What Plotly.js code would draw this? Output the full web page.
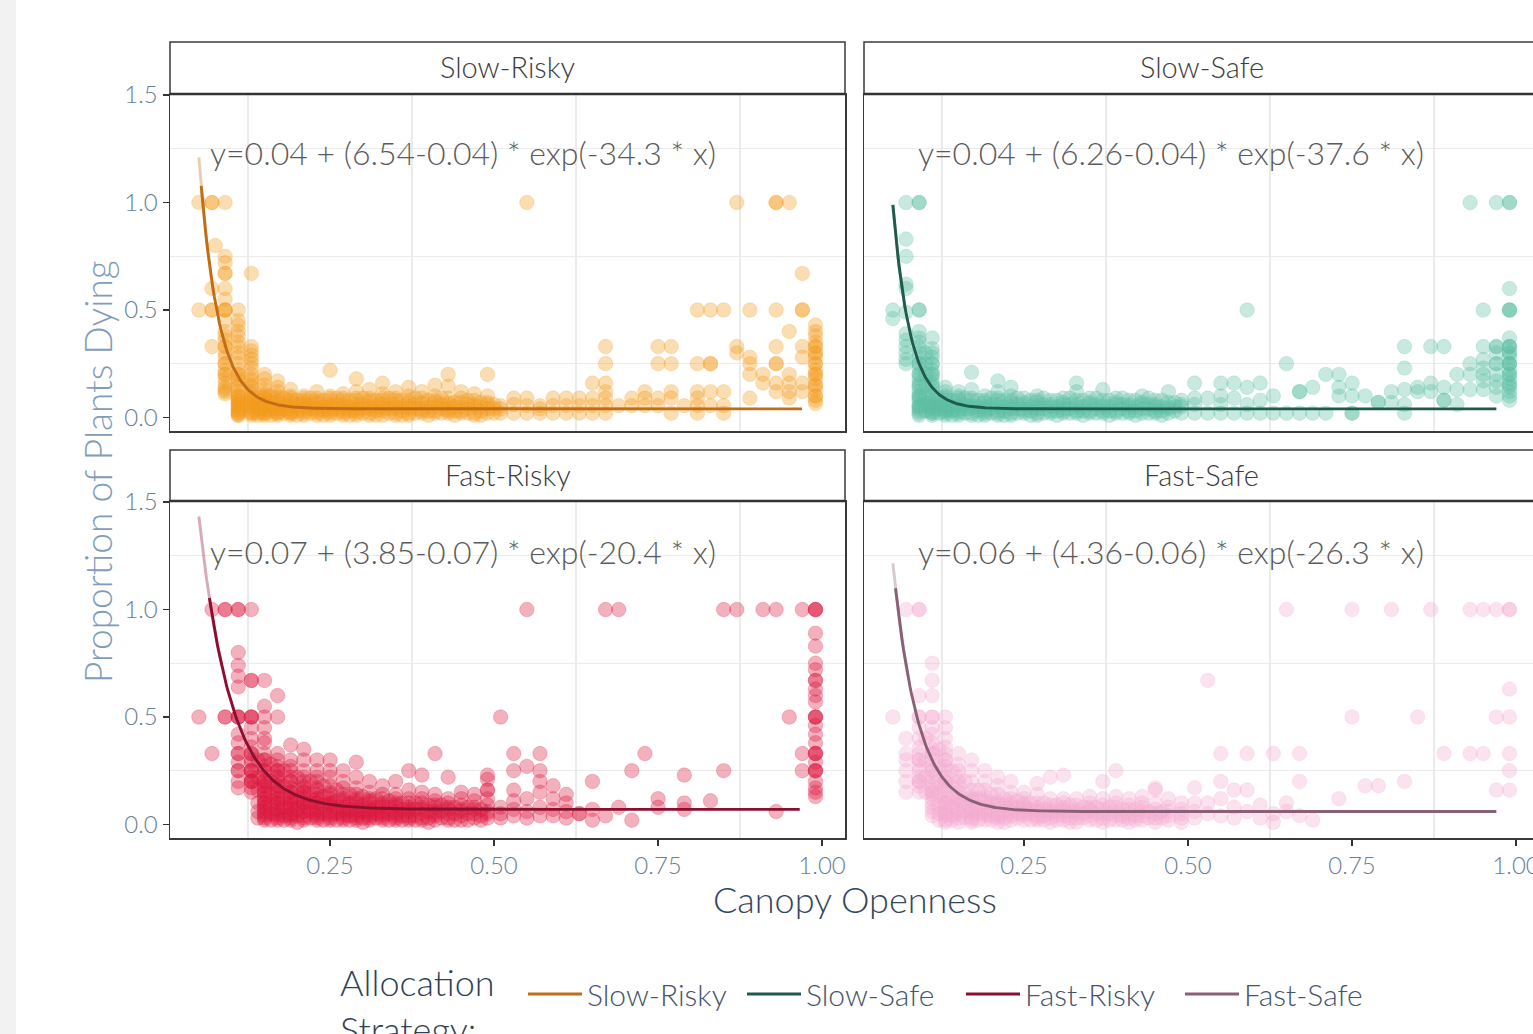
<!DOCTYPE html>
<html><head><meta charset="utf-8">
<script src="https://cdn.plot.ly/plotly-3.0.1.min.js"></script>
<style>html,body{margin:0;padding:0;overflow:hidden;background:#fff;width:1533px;height:1034px}#chart{position:absolute;left:0;top:0;width:1560px;height:1034px}</style>
</head><body><div id="chart"></div><script>
// ---------- data ----------
const strategies = ['Slow-Risky', 'Slow-Safe', 'Fast-Risky', 'Fast-Safe'];
const pointRGB = ['243,154,30', '92,191,162', '220,22,62', '244,169,207'];
const lineColors = ['#c26d16', '#1e5b4c', '#8c0f2f', '#8a6077'];
// fitted model y = a + (b - a) * exp(-k * x)
const fitA = [0.04, 0.04, 0.07, 0.06];
const fitB = [6.54, 6.26, 3.85, 4.36];
const fitK = [34.3, 37.6, 20.4, 26.3];
const fitStart = [0.05, 0.05, 0.05, 0.05];
const fitDarkStart = [0.0535, 0.05, 0.066, 0.054];
const fitEnd = [0.971, 0.97, 0.966, 0.97];
const xTickVals = [0.25, 0.50, 0.75, 1.00];
const yTickVals = [0.0, 0.5, 1.0, 1.5];

// observed points, per column: [canopy openness, proportions dying ...]
const srCols = [
 [0.05, 1.0, 0.5],
 [0.07, 1.0, 1.0, 0.6, 0.5, 0.5, 0.33],
 [0.075, 0.8],
 [0.09, 1.0, 0.75, 0.72, 0.67, 0.67, 0.6, 0.55, 0.5, 0.5, 0.5, 0.45, 0.4, 0.38, 0.36, 0.33, 0.33, 0.3, 0.28, 0.25, 0.25, 0.22, 0.2, 0.2, 0.18, 0.16, 0.14, 0.13, 0.12, 0.11],
 [0.11, 0.5, 0.45, 0.43, 0.4, 0.38, 0.35, 0.33, 0.3, 0.28, 0.25, 0.22, 0.2, 0.2, 0.18, 0.17, 0.15, 0.14, 0.12, 0.1, 0.1, 0.09, 0.08, 0.08, 0.07, 0.06, 0.06, 0.05, 0.04, 0.04, 0.03, 0.02, 0.02, 0.01, 0.01],
 [0.13, 0.67, 0.33, 0.31, 0.29, 0.27, 0.25, 0.23, 0.2, 0.18, 0.17, 0.15, 0.14, 0.12, 0.11, 0.1, 0.09, 0.08, 0.07, 0.06, 0.05, 0.04, 0.03, 0.02, 0.01, 0.08, 0.05, 0.02],
 [0.14, 0.09, 0.06, 0.04, 0.02, 0.01],
 [0.15, 0.2, 0.18, 0.15, 0.13, 0.11, 0.1, 0.09, 0.08, 0.07, 0.06, 0.05, 0.04, 0.03, 0.02, 0.01, 0.09, 0.06, 0.04, 0.02],
 [0.16, 0.1, 0.07, 0.05, 0.03, 0.01],
 [0.17, 0.17, 0.14, 0.12, 0.1, 0.08, 0.07, 0.05, 0.04, 0.03, 0.02, 0.01, 0.09, 0.06, 0.04, 0.02],
 [0.18, 0.09, 0.06, 0.04, 0.02],
 [0.19, 0.13, 0.1, 0.08, 0.06, 0.05, 0.03, 0.02, 0.01, 0.09, 0.07, 0.04, 0.02],
 [0.20, 0.08, 0.06, 0.03, 0.01],
 [0.21, 0.1, 0.08, 0.06, 0.04, 0.02, 0.01, 0.09, 0.07, 0.05, 0.03],
 [0.22, 0.09, 0.06, 0.04, 0.02],
 [0.23, 0.12, 0.09, 0.07, 0.05, 0.03, 0.02, 0.08, 0.06, 0.04, 0.01],
 [0.24, 0.08, 0.05, 0.03, 0.01],
 [0.25, 0.22, 0.1, 0.08, 0.06, 0.04, 0.02, 0.01, 0.09, 0.05, 0.03],
 [0.26, 0.09, 0.06, 0.04, 0.02],
 [0.27, 0.11, 0.09, 0.06, 0.04, 0.02, 0.08, 0.05, 0.03, 0.01],
 [0.28, 0.08, 0.05, 0.03, 0.01],
 [0.29, 0.18, 0.12, 0.09, 0.06, 0.04, 0.02, 0.01, 0.08, 0.05, 0.03],
 [0.30, 0.09, 0.06, 0.04, 0.02],
 [0.31, 0.13, 0.09, 0.07, 0.05, 0.02, 0.08, 0.04, 0.01],
 [0.32, 0.08, 0.05, 0.03, 0.01],
 [0.33, 0.16, 0.11, 0.08, 0.05, 0.03, 0.01, 0.09, 0.06, 0.04],
 [0.34, 0.09, 0.06, 0.04, 0.02],
 [0.35, 0.12, 0.09, 0.06, 0.04, 0.02, 0.08, 0.05, 0.01],
 [0.36, 0.08, 0.05, 0.03, 0.01],
 [0.37, 0.14, 0.1, 0.07, 0.05, 0.02, 0.01, 0.08, 0.04],
 [0.38, 0.09, 0.06, 0.04, 0.02],
 [0.39, 0.12, 0.09, 0.06, 0.03, 0.02, 0.07, 0.04],
 [0.40, 0.08, 0.05, 0.03, 0.01],
 [0.41, 0.15, 0.1, 0.07, 0.05, 0.02, 0.08, 0.03],
 [0.42, 0.09, 0.06, 0.04, 0.02],
 [0.43, 0.2, 0.145, 0.09, 0.06, 0.04, 0.02, 0.07, 0.03],
 [0.44, 0.07, 0.05, 0.03, 0.01],
 [0.45, 0.12, 0.09, 0.05, 0.02, 0.07, 0.03],
 [0.46, 0.08, 0.06, 0.04, 0.02],
 [0.47, 0.11, 0.08, 0.05, 0.02, 0.01, 0.06],
 [0.48, 0.07, 0.05, 0.03, 0.01],
 [0.49, 0.2, 0.1, 0.07, 0.04, 0.02, 0.06],
 [0.50, 0.06, 0.04, 0.02],
 [0.51, 0.055, 0.02, 0.04],
 [0.53, 0.09, 0.06, 0.02],
 [0.55, 1.0, 0.09, 0.055, 0.02],
 [0.57, 0.055, 0.02, 0.04],
 [0.59, 0.09, 0.055, 0.02],
 [0.61, 0.09, 0.055, 0.02],
 [0.63, 0.09, 0.055, 0.02],
 [0.65, 0.16, 0.09, 0.055, 0.02],
 [0.67, 0.33, 0.25, 0.16, 0.12, 0.09, 0.055, 0.02],
 [0.69, 0.055],
 [0.71, 0.09, 0.055],
 [0.73, 0.12, 0.09, 0.055],
 [0.75, 0.33, 0.25, 0.09, 0.055],
 [0.77, 0.33, 0.25, 0.12, 0.09, 0.02],
 [0.79, 0.055],
 [0.81, 0.5, 0.25, 0.12, 0.09, 0.055, 0.02],
 [0.83, 0.5, 0.25, 0.25, 0.12, 0.055],
 [0.85, 0.5, 0.12, 0.055, 0.02],
 [0.87, 1.0, 0.33, 0.3],
 [0.89, 0.5, 0.28, 0.25, 0.2, 0.09],
 [0.91, 0.2, 0.16],
 [0.93, 1.0, 1.0, 0.5, 0.33, 0.25, 0.25, 0.16, 0.12],
 [0.95, 1.0, 0.4, 0.2, 0.16, 0.12, 0.09],
 [0.97, 0.67, 0.5, 0.5, 0.33, 0.28, 0.16, 0.12],
 [0.99, 0.43, 0.4, 0.38, 0.35, 0.33, 0.33, 0.3, 0.28, 0.25, 0.22, 0.2, 0.18, 0.15, 0.13, 0.1, 0.08, 0.065, 0.3, 0.25, 0.2, 0.15, 0.1]
];
const ssCols = [
 [0.05, 0.5, 0.46],
 [0.07, 1.0, 0.83, 0.75, 0.62, 0.6, 0.49, 0.39, 0.36, 0.33, 0.3, 0.27, 0.25],
 [0.09, 1.0, 1.0, 0.5, 0.5, 0.4, 0.37, 0.35, 0.33, 0.3, 0.28, 0.25, 0.23, 0.2, 0.18, 0.16, 0.14, 0.12, 0.1, 0.09, 0.08, 0.06, 0.05, 0.04, 0.03, 0.02, 0.01, 0.25, 0.2, 0.15, 0.1, 0.05],
 [0.10, 0.3, 0.25, 0.2, 0.15, 0.1, 0.06, 0.03],
 [0.11, 0.37, 0.32, 0.3, 0.28, 0.25, 0.22, 0.2, 0.18, 0.16, 0.14, 0.12, 0.1, 0.08, 0.07, 0.06, 0.05, 0.04, 0.03, 0.02, 0.01, 0.25, 0.2, 0.15, 0.1, 0.05, 0.02],
 [0.12, 0.09, 0.06, 0.04, 0.02],
 [0.13, 0.14, 0.12, 0.1, 0.08, 0.06, 0.05, 0.04, 0.03, 0.02, 0.01, 0.09, 0.06, 0.03],
 [0.14, 0.08, 0.05, 0.03, 0.01],
 [0.15, 0.12, 0.1, 0.08, 0.06, 0.04, 0.02, 0.01, 0.09, 0.05, 0.03],
 [0.16, 0.09, 0.06, 0.04, 0.02],
 [0.17, 0.21, 0.13, 0.09, 0.06, 0.04, 0.02, 0.08, 0.05, 0.01],
 [0.18, 0.08, 0.05, 0.03, 0.01],
 [0.19, 0.1, 0.08, 0.05, 0.03, 0.02, 0.07, 0.04, 0.01],
 [0.20, 0.09, 0.06, 0.04, 0.02],
 [0.21, 0.17, 0.12, 0.08, 0.05, 0.03, 0.01, 0.09, 0.06, 0.02],
 [0.22, 0.08, 0.05, 0.03, 0.01],
 [0.23, 0.14, 0.1, 0.07, 0.04, 0.02, 0.08, 0.05, 0.01],
 [0.24, 0.09, 0.06, 0.04, 0.02],
 [0.25, 0.09, 0.06, 0.04, 0.02, 0.07, 0.03],
 [0.26, 0.08, 0.05, 0.03, 0.01],
 [0.27, 0.1, 0.07, 0.05, 0.02, 0.01, 0.08, 0.04],
 [0.28, 0.09, 0.06, 0.04, 0.02],
 [0.29, 0.08, 0.05, 0.03, 0.02, 0.06],
 [0.30, 0.08, 0.05, 0.03, 0.01],
 [0.31, 0.09, 0.06, 0.04, 0.02, 0.07, 0.03],
 [0.32, 0.09, 0.06, 0.04, 0.02],
 [0.33, 0.16, 0.12, 0.08, 0.05, 0.02, 0.06, 0.03],
 [0.34, 0.08, 0.05, 0.03, 0.01],
 [0.35, 0.09, 0.06, 0.03, 0.02, 0.07],
 [0.36, 0.09, 0.06, 0.04, 0.02],
 [0.37, 0.13, 0.08, 0.05, 0.02, 0.06, 0.03],
 [0.38, 0.08, 0.05, 0.03, 0.01],
 [0.39, 0.09, 0.06, 0.03, 0.02, 0.07],
 [0.40, 0.09, 0.06, 0.04, 0.02],
 [0.41, 0.08, 0.05, 0.02, 0.06, 0.03],
 [0.42, 0.08, 0.05, 0.03, 0.01],
 [0.43, 0.1, 0.07, 0.04, 0.02, 0.06],
 [0.44, 0.09, 0.06, 0.04, 0.02],
 [0.45, 0.08, 0.05, 0.02, 0.06, 0.03],
 [0.46, 0.08, 0.05, 0.03, 0.01],
 [0.47, 0.12, 0.07, 0.04, 0.02, 0.05],
 [0.48, 0.07, 0.05, 0.03],
 [0.49, 0.08, 0.05, 0.02, 0.06],
 [0.51, 0.16, 0.09, 0.06, 0.02],
 [0.53, 0.09, 0.02],
 [0.55, 0.16, 0.1, 0.06, 0.02],
 [0.57, 0.16, 0.09, 0.02],
 [0.59, 0.5, 0.14, 0.06, 0.02],
 [0.61, 0.16, 0.08, 0.02],
 [0.63, 0.1, 0.02],
 [0.65, 0.25, 0.02],
 [0.67, 0.12, 0.12, 0.02],
 [0.69, 0.14, 0.02],
 [0.71, 0.2, 0.02],
 [0.73, 0.2, 0.14, 0.1],
 [0.75, 0.16, 0.1, 0.02, 0.02],
 [0.77, 0.1],
 [0.79, 0.07, 0.07],
 [0.81, 0.12, 0.07],
 [0.83, 0.33, 0.23, 0.13, 0.06, 0.02],
 [0.85, 0.14, 0.12],
 [0.87, 0.33, 0.16, 0.12],
 [0.89, 0.33, 0.14, 0.08, 0.08],
 [0.91, 0.2, 0.13, 0.06],
 [0.93, 1.0, 0.25, 0.2, 0.13],
 [0.95, 0.5, 0.33, 0.27, 0.23, 0.2, 0.17, 0.13],
 [0.97, 1.0, 0.33, 0.33, 0.3, 0.25, 0.25, 0.2, 0.17, 0.14, 0.1],
 [0.99, 1.0, 1.0, 0.6, 0.5, 0.5, 0.5, 0.37, 0.33, 0.33, 0.33, 0.3, 0.28, 0.25, 0.25, 0.22, 0.2, 0.18, 0.16, 0.14, 0.12, 0.1, 0.08, 0.3, 0.25, 0.2, 0.15]
];
const frCols = [
 [0.05, 0.5],
 [0.07, 1.0, 0.33],
 [0.09, 1.0, 1.0, 0.5, 0.5],
 [0.11, 1.0, 1.0, 0.8, 0.74, 0.69, 0.64, 0.5, 0.5, 0.5, 0.42, 0.38, 0.33, 0.33, 0.29, 0.25, 0.25, 0.2, 0.17],
 [0.13, 1.0, 0.67, 0.67, 0.5, 0.5, 0.5, 0.45, 0.4, 0.36, 0.33, 0.33, 0.29, 0.25, 0.25, 0.22, 0.2, 0.2, 0.17, 0.15, 0.3, 0.25, 0.2],
 [0.14, 0.3, 0.22, 0.16, 0.1, 0.06, 0.03],
 [0.15, 0.67, 0.55, 0.5, 0.45, 0.4, 0.38, 0.33, 0.3, 0.27, 0.25, 0.22, 0.2, 0.18, 0.16, 0.14, 0.12, 0.1, 0.08, 0.06, 0.04, 0.02, 0.25, 0.2, 0.15, 0.1, 0.05, 0.3, 0.18, 0.12, 0.08, 0.03],
 [0.16, 0.28, 0.2, 0.14, 0.09, 0.05, 0.02],
 [0.17, 0.6, 0.5, 0.33, 0.3, 0.27, 0.25, 0.22, 0.2, 0.18, 0.16, 0.14, 0.12, 0.1, 0.08, 0.06, 0.04, 0.02, 0.22, 0.15, 0.1, 0.05, 0.25, 0.18, 0.12, 0.07, 0.03],
 [0.18, 0.25, 0.18, 0.12, 0.08, 0.04, 0.02],
 [0.19, 0.37, 0.3, 0.27, 0.25, 0.22, 0.2, 0.17, 0.15, 0.13, 0.11, 0.09, 0.07, 0.05, 0.03, 0.02, 0.15, 0.1, 0.05, 0.2, 0.12, 0.08, 0.04],
 [0.20, 0.22, 0.16, 0.11, 0.07, 0.04, 0.01],
 [0.21, 0.35, 0.3, 0.25, 0.22, 0.2, 0.17, 0.15, 0.12, 0.1, 0.08, 0.06, 0.04, 0.02, 0.15, 0.1, 0.06, 0.18, 0.13, 0.09, 0.03],
 [0.22, 0.2, 0.14, 0.1, 0.06, 0.03],
 [0.23, 0.3, 0.25, 0.22, 0.2, 0.17, 0.14, 0.12, 0.1, 0.08, 0.06, 0.04, 0.02, 0.12, 0.07, 0.16, 0.1, 0.05, 0.03],
 [0.24, 0.18, 0.13, 0.09, 0.05, 0.02],
 [0.25, 0.3, 0.25, 0.22, 0.18, 0.15, 0.12, 0.1, 0.08, 0.06, 0.04, 0.02, 0.1, 0.05, 0.14, 0.09, 0.03],
 [0.26, 0.16, 0.11, 0.08, 0.05, 0.02],
 [0.27, 0.25, 0.2, 0.17, 0.14, 0.12, 0.1, 0.08, 0.06, 0.04, 0.02, 0.07, 0.11, 0.05, 0.03],
 [0.28, 0.14, 0.1, 0.07, 0.04, 0.02],
 [0.29, 0.29, 0.22, 0.17, 0.14, 0.12, 0.1, 0.08, 0.06, 0.04, 0.02, 0.05, 0.11, 0.07, 0.03],
 [0.30, 0.13, 0.09, 0.06, 0.03, 0.01],
 [0.31, 0.2, 0.15, 0.12, 0.1, 0.08, 0.06, 0.04, 0.02, 0.07, 0.11, 0.05, 0.03],
 [0.32, 0.12, 0.08, 0.05, 0.03],
 [0.33, 0.18, 0.14, 0.12, 0.1, 0.08, 0.06, 0.04, 0.02, 0.09, 0.05, 0.03],
 [0.34, 0.11, 0.08, 0.05, 0.02],
 [0.35, 0.2, 0.14, 0.12, 0.1, 0.08, 0.06, 0.04, 0.02, 0.09, 0.05, 0.03],
 [0.36, 0.1, 0.07, 0.04, 0.02],
 [0.37, 0.25, 0.16, 0.12, 0.1, 0.08, 0.06, 0.04, 0.02, 0.07, 0.03],
 [0.38, 0.1, 0.07, 0.04, 0.02],
 [0.39, 0.23, 0.15, 0.12, 0.1, 0.08, 0.05, 0.03, 0.07, 0.02],
 [0.40, 0.09, 0.06, 0.03, 0.01],
 [0.41, 0.33, 0.14, 0.11, 0.08, 0.06, 0.04, 0.02, 0.09, 0.05],
 [0.42, 0.09, 0.06, 0.03],
 [0.43, 0.22, 0.12, 0.1, 0.08, 0.05, 0.03, 0.07, 0.02],
 [0.44, 0.08, 0.05, 0.02],
 [0.45, 0.15, 0.12, 0.09, 0.07, 0.04, 0.02, 0.06],
 [0.46, 0.08, 0.05, 0.02],
 [0.47, 0.14, 0.11, 0.08, 0.05, 0.03, 0.07],
 [0.48, 0.07, 0.04, 0.02],
 [0.49, 0.23, 0.21, 0.16, 0.16, 0.12, 0.09, 0.06, 0.03, 0.05],
 [0.51, 0.5, 0.08, 0.05, 0.03],
 [0.53, 0.33, 0.25, 0.16, 0.11, 0.07, 0.04],
 [0.55, 1.0, 0.27, 0.12, 0.06, 0.03],
 [0.57, 0.33, 0.25, 0.2, 0.15, 0.08, 0.04],
 [0.59, 0.18, 0.12, 0.07, 0.04],
 [0.61, 0.14, 0.1, 0.06, 0.03],
 [0.63, 0.05, 0.05],
 [0.65, 0.2, 0.07, 0.02],
 [0.67, 1.0, 0.04],
 [0.69, 1.0, 0.08],
 [0.71, 0.25, 0.02],
 [0.73, 0.33],
 [0.75, 0.12, 0.08],
 [0.79, 0.23, 0.1, 0.07],
 [0.83, 0.11],
 [0.85, 1.0, 0.25],
 [0.87, 1.0],
 [0.91, 1.0],
 [0.93, 1.0, 0.06],
 [0.95, 0.5],
 [0.97, 1.0, 0.33, 0.25],
 [0.99, 1.0, 1.0, 1.0, 0.89, 0.83, 0.75, 0.72, 0.67, 0.67, 0.63, 0.6, 0.57, 0.5, 0.5, 0.5, 0.46, 0.42, 0.38, 0.33, 0.33, 0.33, 0.29, 0.25, 0.25, 0.25, 0.2, 0.17, 0.15, 0.13]
];
const fsCols = [
 [0.05, 0.5],
 [0.07, 1.0, 0.4, 0.33, 0.3, 0.25, 0.2, 0.15],
 [0.09, 1.0, 1.0, 0.6, 0.5, 0.5, 0.45, 0.4, 0.36, 0.33, 0.3, 0.27, 0.25, 0.22, 0.2, 0.18, 0.15, 0.3, 0.2],
 [0.10, 0.4, 0.3, 0.22, 0.15],
 [0.11, 0.75, 0.67, 0.6, 0.5, 0.5, 0.45, 0.42, 0.38, 0.33, 0.33, 0.3, 0.27, 0.25, 0.22, 0.2, 0.18, 0.16, 0.14, 0.12, 0.1, 0.08, 0.06, 0.04, 0.35, 0.25, 0.15],
 [0.12, 0.35, 0.27, 0.2, 0.14, 0.09, 0.05, 0.02],
 [0.13, 0.5, 0.45, 0.4, 0.36, 0.33, 0.3, 0.27, 0.25, 0.22, 0.2, 0.18, 0.16, 0.14, 0.12, 0.1, 0.08, 0.06, 0.04, 0.02, 0.01, 0.3, 0.2, 0.1, 0.05],
 [0.14, 0.25, 0.18, 0.12, 0.08, 0.04, 0.02],
 [0.15, 0.33, 0.28, 0.25, 0.2, 0.18, 0.15, 0.13, 0.11, 0.09, 0.07, 0.05, 0.03, 0.01, 0.22, 0.12, 0.06],
 [0.16, 0.2, 0.14, 0.1, 0.06, 0.03],
 [0.17, 0.3, 0.25, 0.2, 0.16, 0.13, 0.11, 0.09, 0.07, 0.05, 0.03, 0.01, 0.12, 0.06, 0.02],
 [0.18, 0.16, 0.12, 0.08, 0.05, 0.02],
 [0.19, 0.25, 0.2, 0.16, 0.13, 0.1, 0.08, 0.06, 0.04, 0.02, 0.11, 0.05],
 [0.20, 0.14, 0.1, 0.07, 0.04, 0.02],
 [0.21, 0.22, 0.18, 0.14, 0.11, 0.09, 0.07, 0.05, 0.03, 0.01, 0.1, 0.04],
 [0.22, 0.12, 0.09, 0.06, 0.03, 0.01],
 [0.23, 0.2, 0.15, 0.12, 0.1, 0.08, 0.06, 0.04, 0.02, 0.09, 0.05],
 [0.24, 0.11, 0.08, 0.05, 0.03],
 [0.25, 0.15, 0.12, 0.1, 0.08, 0.06, 0.04, 0.02, 0.09, 0.05],
 [0.26, 0.1, 0.07, 0.05, 0.02],
 [0.27, 0.19, 0.14, 0.1, 0.08, 0.06, 0.04, 0.02, 0.07, 0.03],
 [0.28, 0.1, 0.07, 0.04, 0.02],
 [0.29, 0.22, 0.12, 0.09, 0.07, 0.05, 0.03, 0.01, 0.06],
 [0.30, 0.09, 0.06, 0.04, 0.02],
 [0.31, 0.23, 0.12, 0.1, 0.08, 0.06, 0.04, 0.02, 0.07],
 [0.32, 0.09, 0.06, 0.03, 0.01],
 [0.33, 0.12, 0.09, 0.07, 0.05, 0.03, 0.01, 0.06],
 [0.34, 0.08, 0.05, 0.03],
 [0.35, 0.13, 0.1, 0.08, 0.06, 0.04, 0.02, 0.07],
 [0.36, 0.08, 0.05, 0.02],
 [0.37, 0.2, 0.12, 0.09, 0.07, 0.05, 0.03, 0.01],
 [0.38, 0.08, 0.05, 0.02],
 [0.39, 0.25, 0.13, 0.1, 0.08, 0.06, 0.04, 0.02],
 [0.40, 0.07, 0.04, 0.02],
 [0.41, 0.12, 0.09, 0.07, 0.05, 0.03, 0.01],
 [0.42, 0.07, 0.04, 0.02],
 [0.43, 0.13, 0.1, 0.08, 0.06, 0.04, 0.02],
 [0.44, 0.06, 0.03],
 [0.45, 0.17, 0.16, 0.1, 0.07, 0.05, 0.03, 0.01],
 [0.46, 0.06, 0.03],
 [0.47, 0.12, 0.08, 0.06, 0.04, 0.02],
 [0.49, 0.1, 0.07, 0.05, 0.03, 0.01],
 [0.51, 0.17, 0.1, 0.06, 0.03],
 [0.53, 0.67, 0.1, 0.05],
 [0.55, 0.33, 0.2, 0.12, 0.04],
 [0.57, 0.16, 0.08, 0.03],
 [0.59, 0.33, 0.16, 0.06],
 [0.61, 0.09, 0.03],
 [0.63, 0.33, 0.05, 0.01],
 [0.65, 1.0, 0.1, 0.06],
 [0.67, 0.33, 0.2, 0.04],
 [0.69, 0.02],
 [0.73, 0.12],
 [0.75, 1.0, 0.5],
 [0.77, 0.18],
 [0.79, 0.18],
 [0.81, 1.0],
 [0.83, 0.2],
 [0.85, 0.5],
 [0.87, 1.0],
 [0.89, 0.33],
 [0.93, 1.0, 0.33],
 [0.95, 1.0, 0.33],
 [0.97, 1.0, 0.5, 0.16],
 [0.99, 1.0, 1.0, 0.63, 0.5, 0.33, 0.25, 0.16]
];
const panelCols = [srCols, ssCols, frCols, fsCols];

// ---------- layout geometry ----------
const W = 1560, H = 1034;
const px = v => v / W;           // horizontal pixel -> paper
const py = v => (H - v) / H;     // vertical pixel -> paper
const colDom = [[px(170), px(845)], [px(864), px(1539)]];
const rowDom = [[py(431), py(94)], [py(838), py(501)]];
const traces = [];
const lineTraces = [];
strategies.forEach((name, i) => {
  const ax = i === 0 ? '' : String(i + 1);
  const xs = [], ys = [];
  panelCols[i].forEach(c => { for (let j = 1; j < c.length; j++) { xs.push(c[0]); ys.push(c[j]); } });
  traces.push({
    type: 'scatter', mode: 'markers', x: xs, y: ys, xaxis: 'x' + ax, yaxis: 'y' + ax,
    marker: { size: 14.5, color: 'rgba(' + pointRGB[i] + ',0.34)', line: { width: 1, color: 'rgba(' + pointRGB[i] + ',0.22)' } },
    showlegend: false, hoverinfo: 'skip'
  });
  const f = x => fitA[i] + (fitB[i] - fitA[i]) * Math.exp(-fitK[i] * x);
  const lx = [], ly = [], dx = [], dy = [];
  for (let x = fitStart[i]; x <= fitDarkStart[i] + 0.02; x += 0.001) { lx.push(x); ly.push(f(x)); }
  for (let x = fitDarkStart[i]; x <= fitEnd[i] + 1e-9; x += 0.002) { dx.push(x); dy.push(f(x)); }
  traces.push({
    type: 'scatter', mode: 'lines', x: lx, y: ly, xaxis: 'x' + ax, yaxis: 'y' + ax,
    line: { color: lineColors[i], width: 2.9 }, opacity: 0.35, showlegend: false, hoverinfo: 'skip'
  });
  lineTraces.push({
    type: 'scatter', mode: 'lines', x: dx, y: dy, xaxis: 'x' + ax, yaxis: 'y' + ax, name: name,
    line: { color: lineColors[i], width: 2.9 }, showlegend: true, hoverinfo: 'skip'
  });
});

const layout = {
  width: W, height: H, margin: { l: 0, r: 0, t: 0, b: 0 },
  paper_bgcolor: '#ffffff', plot_bgcolor: '#ffffff',
  font: { family: 'Lato, sans-serif', weight: 300, color: '#333' },
  showlegend: true,
  legend: {
    orientation: 'h', x: px(523), xanchor: 'left', y: py(994), yanchor: 'middle',
    font: { size: 30, color: '#44546a', weight: 300 }, itemwidth: 54, bgcolor: 'rgba(0,0,0,0)',
    entrywidth: 150, entrywidthmode: 'pixels', traceorder: 'normal'
  },
  shapes: [], annotations: []
};
layout.shapes.push({ type: 'rect', xref: 'paper', yref: 'paper', x0: 0, x1: px(16), y0: 0, y1: 1,
  fillcolor: '#f2f2f2', line: { width: 0 }, layer: 'below' });

strategies.forEach((name, i) => {
  const ax = i === 0 ? '' : String(i + 1);
  const col = i % 2, row = Math.floor(i / 2);
  const showX = row === 1, showY = col === 0;
  layout['xaxis' + ax] = {
    domain: colDom[col], anchor: 'y' + ax, range: [0.006, 1.035],
    tickmode: 'array', tickvals: xTickVals, tickformat: '.2f', showgrid: false, zeroline: false,
    minor: { tickmode: 'array', tickvals: [0.125, 0.375, 0.625, 0.875], showgrid: true, gridcolor: '#ebebeb', gridwidth: 1.2, ticks: '' },
    showline: true, mirror: true, linecolor: '#3a3a3a', linewidth: 1.5,
    ticks: showX ? 'outside' : '', ticklen: 6, tickwidth: 1.6, tickcolor: '#333',
    showticklabels: showX, tickfont: { size: 24, color: '#6a7d92', weight: 300 }, fixedrange: true
  };
  layout['yaxis' + ax] = {
    domain: rowDom[row], anchor: 'x' + ax, range: [-0.063, 1.505],
    tickmode: 'array', tickvals: yTickVals, tickformat: '.1f', showgrid: false, zeroline: false,
    minor: { tickmode: 'array', tickvals: [0.25, 0.75, 1.25], showgrid: true, gridcolor: '#ebebeb', gridwidth: 1.2, ticks: '' },
    showline: true, mirror: true, linecolor: '#3a3a3a', linewidth: 1.5,
    ticks: showY ? 'outside' : '', ticklen: 6, tickwidth: 1.6, tickcolor: '#333',
    showticklabels: showY, tickfont: { size: 24, color: '#6a7d92', weight: 300 }, fixedrange: true
  };
  const stripTop = row === 0 ? 42 : 450, stripBot = row === 0 ? 94 : 501;
  const x0 = col === 0 ? 170 : 864, x1 = col === 0 ? 845 : 1539;
  layout.shapes.push({ type: 'rect', xref: 'paper', yref: 'paper', x0: px(x0), x1: px(x1), y0: py(stripBot), y1: py(stripTop),
    fillcolor: '#ffffff', line: { color: '#3a3a3a', width: 1.5 } });
  layout.shapes.push({ type: 'line', xref: 'paper', yref: 'paper', x0: px(x0), x1: px(x1), y0: py(stripBot), y1: py(stripBot),
    line: { color: '#333', width: 2.6 } });
  layout.annotations.push({ xref: 'paper', yref: 'paper', x: px((x0 + x1) / 2), y: py((stripTop + stripBot) / 2 - 1),
    text: name, showarrow: false, xanchor: 'center', yanchor: 'middle', font: { size: 29, color: '#3c3c3c', weight: 300 } });
  const eq = 'y=' + fitA[i].toFixed(2) + ' + (' + fitB[i].toFixed(2) + '-' + fitA[i].toFixed(2) + ') * exp(-' + fitK[i].toFixed(1) + ' * x)';
  layout.annotations.push({ xref: 'x' + ax, yref: 'y' + ax, x: col === 0 ? 0.064 : 0.085, y: row === 0 ? 1.235 : 1.272,
    text: eq, showarrow: false, xanchor: 'left', yanchor: 'middle', font: { size: 32, color: '#5a5a5a', weight: 300 } });
});
layout.annotations.push({ xref: 'paper', yref: 'paper', x: px(97), y: py(472), text: 'Proportion of Plants Dying',
  textangle: -90, showarrow: false, xanchor: 'center', yanchor: 'middle', font: { size: 37, color: '#7f9cba', weight: 300 } });
layout.annotations.push({ xref: 'paper', yref: 'paper', x: px(855), y: py(899), text: 'Canopy Openness',
  showarrow: false, xanchor: 'center', yanchor: 'middle', font: { size: 36, color: '#34475e', weight: 300 } });
layout.annotations.push({ xref: 'paper', yref: 'paper', x: px(338), y: py(958), text: 'Allocation<br>Strategy:',
  showarrow: false, xanchor: 'left', yanchor: 'top', align: 'left', font: { size: 36, color: '#2f3f55', weight: 300 } });

Plotly.newPlot('chart', traces.concat(lineTraces), layout, { staticPlot: true, displayModeBar: false });
</script></body></html>
